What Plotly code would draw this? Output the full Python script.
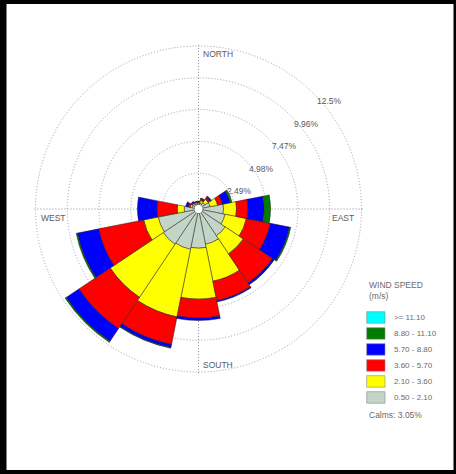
import plotly.graph_objects as go

# ---- data -------------------------------------------------------------
directions = ["N", "NNE", "NE", "ENE", "E", "ESE", "SE", "SSE",
              "S", "SSW", "SW", "WSW", "W", "WNW", "NW", "NNW"]
theta_deg = [i * 22.5 for i in range(16)]

speed_bins = ["0.50 - 2.10", "2.10 - 3.60", "3.60 - 5.70",
              "5.70 - 8.80", "8.80 - 11.10", ">= 11.10"]
bin_colors = ["#C2D5C6", "#FFFF00", "#FF0000", "#0000FF", "#007D00", "#00FFFF"]

# frequency (%) of each speed class per direction, stacked outward
freq_050_210 = [0.10, 0.15, 0.30, 0.60, 1.64, 1.80, 2.20, 2.50,
                2.75, 2.90, 3.00, 2.90, 0.80, 0.20, 0.15, 0.10]
freq_210_360 = [0.10, 0.20, 0.30, 0.60, 1.02, 1.70, 1.70, 2.95,
                3.99, 5.40, 5.00, 1.16, 0.55, 0.15, 0.10, 0.10]
freq_360_570 = [0.05, 0.10, 0.15, 0.40, 0.89, 1.92, 2.75, 1.55,
                1.48, 2.20, 2.95, 3.59, 1.59, 0.15, 0.05, 0.05]
freq_570_880 = [0.05, 0.05, 0.10, 0.60, 1.27, 1.53, 0.15, 0.10,
                0.20, 0.25, 1.20, 1.70, 1.53, 0.20, 0.10, 0.05]
freq_880_1110 = [0.00, 0.05, 0.05, 0.15, 0.51, 0.10, 0.02, 0.00,
                 0.00, 0.05, 0.10, 0.10, 0.00, 0.00, 0.00, 0.00]
freq_ge_1110 = [0.0] * 16

calms_pct = 3.05
ring_values = [2.49, 4.98, 7.47, 9.96, 12.45]
ring_labels = ["2.49%", "4.98%", "7.47%", "9.96%", "12.5%"]
cardinal_names = ["NORTH", "EAST", "SOUTH", "WEST"]

series = [freq_050_210, freq_210_360, freq_360_570,
          freq_570_880, freq_880_1110, freq_ge_1110]

# ---- geometry ---------------------------------------------------------
W, H = 456, 474
cx, cy = 198.5, 209.0          # rose centre in pixels
r_max = 12.6                   # radial range
hole = 0.025
ring_px = 163.0                # pixel radius of outermost ring
R = ring_px / (hole + (1 - hole) * ring_values[-1] / r_max)

def px_radius(v):
    return R * (hole + (1 - hole) * v / r_max)

fig = go.Figure()
for vals, name, col in zip(series, speed_bins, bin_colors):
    fig.add_trace(go.Barpolar(
        r=vals, theta=theta_deg, width=[22.5] * 16, name=name,
        marker=dict(color=col, line=dict(color="#222222", width=0.5)),
        showlegend=False,
    ))

grid_col = "#9d9daa"
fig.update_layout(
    width=W, height=H,
    margin=dict(l=0, r=0, t=0, b=0),
    paper_bgcolor="white",
    plot_bgcolor="white",
    polar=dict(
        domain=dict(x=[(cx - R) / W, (cx + R) / W],
                    y=[(H - cy - R) / H, (H - cy + R) / H]),
        hole=hole,
        bgcolor="white",
        barmode="stack",
        radialaxis=dict(range=[0, r_max], tickmode="array",
                        tickvals=ring_values, showticklabels=False,
                        ticks="", showline=False, gridcolor=grid_col,
                        griddash="1px,2px", gridwidth=1),
        angularaxis=dict(rotation=90, direction="clockwise",
                         tickmode="array", tickvals=[0, 90, 180, 270],
                         showticklabels=False, ticks="", showline=False,
                         gridcolor="#8a8aa0", griddash="1px,2px", gridwidth=1),
    ),
)

font_main = "Liberation Sans, Arial, sans-serif"
txt_col = "#5a5a5a"

def px_to_paper(x, y):
    return x / W, 1 - y / H

annotations = []
# ring labels, offset beside the 45 degree line
for v, lab in zip(ring_values, ring_labels):
    rp = px_radius(v)
    x = cx + rp * 0.7071 + 15.3
    y = cy - rp * 0.7071 + 7.6
    px, py = px_to_paper(x, y)
    annotations.append(dict(x=px, y=py, xref="paper", yref="paper",
                            text=lab, showarrow=False, xanchor="center",
                            yanchor="middle",
                            font=dict(family=font_main, size=8.5, color=txt_col)))

# cardinal labels
card_pos = [(201, 53.7, "left"), (356, 217.7, "right"),
            (201, 365.3, "left"), (38.5, 217.7, "left")]
for name, (x, y, anc) in zip(cardinal_names, card_pos):
    px, py = px_to_paper(x, y)
    annotations.append(dict(x=px, y=py, xref="paper", yref="paper",
                            text=name, showarrow=False, xanchor=anc,
                            yanchor="middle",
                            font=dict(family=font_main, size=8.5, color=txt_col)))

# legend block
shapes = []
leg_x = 366.7
for i, (name, col) in enumerate(zip(speed_bins[::-1], bin_colors[::-1])):
    y0 = 311.7 + i * 16.0
    x0p, y0p = px_to_paper(leg_x, y0)
    x1p, y1p = px_to_paper(leg_x + 18.3, y0 + 11.5)
    shapes.append(dict(type="rect", xref="paper", yref="paper",
                       x0=x0p, x1=x1p, y0=y1p, y1=y0p,
                       fillcolor=col, line=dict(color="#888888", width=0.6)))
    tx, ty = px_to_paper(391.5, y0 + 5.8)
    annotations.append(dict(x=tx, y=ty, xref="paper", yref="paper",
                            text=name, showarrow=False, xanchor="left",
                            yanchor="middle",
                            font=dict(family=font_main, size=8, color="#6a6a6a")))

for text, y in [("WIND SPEED", 285.0), ("(m/s)", 296.0),
                ("Calms: %.2f%%" % calms_pct, 415.0)]:
    tx, ty = px_to_paper(leg_x, y)
    annotations.append(dict(x=tx, y=ty, xref="paper", yref="paper",
                            text=text, showarrow=False, xanchor="left",
                            yanchor="middle",
                            font=dict(family=font_main, size=8.5, color="#6a6a6a")))

# page frame
frame = [(0, 0, 6.5, H), (0, 0, W, 4), (W - 2.5, 0, W, H), (0, H - 4, W, H)]
for x0, y0, x1, y1 in frame:
    a, b = px_to_paper(x0, y0)
    c, d = px_to_paper(x1, y1)
    shapes.append(dict(type="rect", xref="paper", yref="paper",
                       x0=a, x1=c, y0=d, y1=b, fillcolor="black",
                       line=dict(width=0)))

fig.update_layout(annotations=annotations, shapes=shapes)
fig.write_html("out.html")
